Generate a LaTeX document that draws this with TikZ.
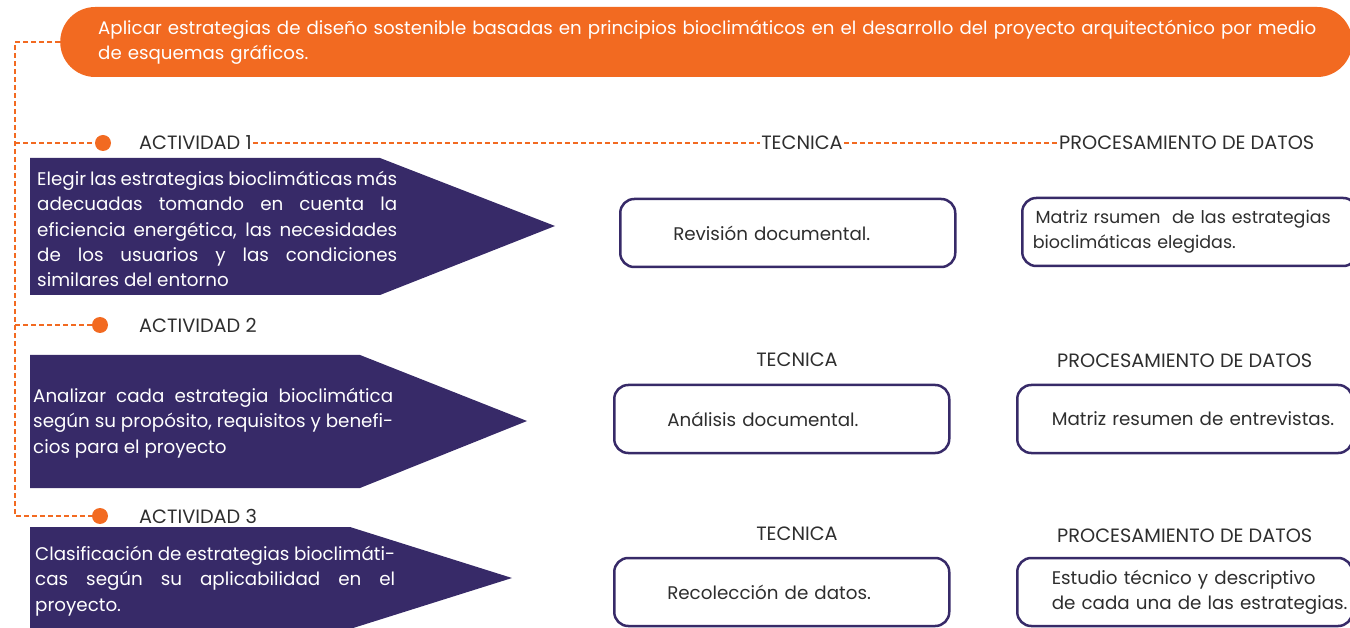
\documentclass[tikz,border=0pt]{standalone}
\usepackage{fontspec}
\setmainfont{Poppins}
\usetikzlibrary{positioning}
\definecolor{naranja}{HTML}{F26A21}
\definecolor{morado}{HTML}{372A68}
\definecolor{gristexto}{HTML}{2E2E2E}

\begin{document}
\begin{tikzpicture}[x=1pt,y=-1pt,
  goalbox/.style={fill=naranja,rounded corners=35pt,minimum height=70pt,text width=1216pt,inner xsep=38pt,align=left,text=white,font=\fontsize{18.2}{25}\selectfont,anchor=west},
  headlabel/.style={text=gristexto,inner sep=1pt,font=\fontsize{19.3}{22}\selectfont},
  dot/.style={circle,fill=naranja,minimum size=16pt,inner sep=0pt},
  dashline/.style={draw=naranja,line width=1.6pt,dash pattern=on 5pt off 3pt},
  actshape/.style={fill=morado},
  acttext/.style={text=white,text width=360pt,align=justify,inner sep=0pt,anchor=north west,font=\fontsize{18.3}{25.3}\selectfont},
  techbox/.style={draw=morado,line width=2.5pt,rounded corners=14pt,fill=white,minimum width=335pt,minimum height=68pt,text width=229pt,inner xsep=53pt,align=left,anchor=west,text=gristexto,font=\fontsize{18.3}{25}\selectfont},
  procbox/.style={techbox,text width=266pt,inner xsep=34pt}]
\useasboundingbox (0,0) rectangle (1350,628);

% objetivo
\node[goalbox] (goal) at (60,42) {\mbox{Aplicar estrategias de diseño sostenible basadas en principios bioclimáticos en el desarrollo del proyecto arquitectónico por medio}\\de esquemas gráficos.};

% linea de actividades
\coordinate (top) at (15,42);
\node[dot] (d1) at (103,143) {};
\node[dot] (d2) at (100,325) {};
\node[dot] (d3) at (100,516) {};
\draw[dashline] (goal.west) -- (top) -- (top |- d3) -- (d3);
\draw[dashline] (top |- d1) -- (d1);
\draw[dashline] (top |- d2) -- (d2);

% encabezados
\node[headlabel,anchor=west] (act1) at (138,143) {ACTIVIDAD 1};
\node[headlabel] (tec1) at (802,143) {TECNICA};
\node[headlabel,anchor=west] (proc1) at (1058,143) {PROCESAMIENTO DE DATOS};
\draw[dashline] (act1.east) -- (tec1.west);
\draw[dashline] (tec1.east) -- (proc1.west);
\node[headlabel,anchor=west] (act2) at (138,325) {ACTIVIDAD 2};
\node[headlabel] (tec2) at (797,360) {TECNICA};
\node[headlabel,anchor=west] (proc2) at (1056,361) {PROCESAMIENTO DE DATOS};
\node[headlabel,anchor=west] (act3) at (138,516) {ACTIVIDAD 3};
\node[headlabel] (tec3) at (797,534) {TECNICA};
\node[headlabel,anchor=west] (proc3) at (1056,536) {PROCESAMIENTO DE DATOS};

% actividades
\fill[actshape] (30,158) -- (380,158) -- (555,226) -- (380,295) -- (30,295) -- cycle;
\node[acttext] (a1) at (37,171) {Elegir las estrategias bioclimáticas más\linebreak adecuadas tomando en cuenta la\linebreak eficiencia energética, las necesidades\linebreak de los usuarios y las condiciones\linebreak similares del entorno};
\fill[actshape] (30,355) -- (360,355) -- (527,421) -- (360,488) -- (30,488) -- cycle;
\node[acttext] (a2) at (33,388) {Analizar cada estrategia bioclimática\linebreak según su propósito, requisitos y benefi-\linebreak cios para el proyecto};
\fill[actshape] (30,527) -- (350,527) -- (512,578) -- (350,629) -- (30,629) -- cycle;
\node[acttext] (a3) at (35,546) {Clasificación de estrategias bioclimáti-\linebreak cas según su aplicabilidad en el\linebreak proyecto.};

% tecnicas y procesamiento
\node[techbox] (t1) at (619,233) {Revisión documental.};
\node[procbox,inner xsep=10pt,text width=314pt,font=\fontsize{17.5}{25}\selectfont] (p1) at (1021,232) {\,Matriz rsumen\ \ de las estrategias\\bioclimáticas elegidas.};
\node[techbox] (t2) at (613,419) {Análisis documental.};
\node[procbox] (p2) at (1016,419) {\mbox{Matriz resumen de entrevistas.}};
\node[techbox] (t3) at (613,592) {Recolección de datos.};
\node[procbox] (p3) at (1016,592) {\mbox{Estudio técnico y descriptivo}\\\mbox{de cada una de las estrategias.}};
\end{tikzpicture}
\end{document}
